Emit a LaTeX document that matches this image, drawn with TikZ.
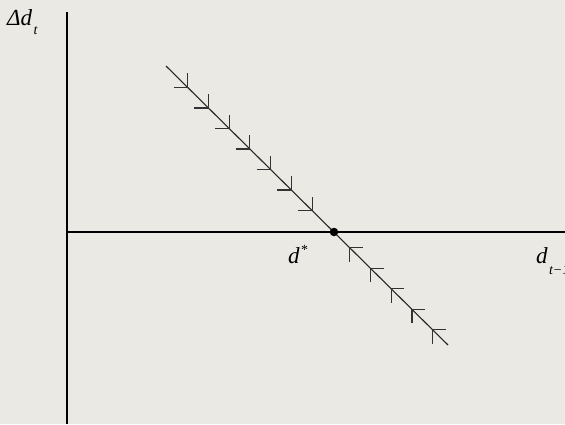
\documentclass[tikz,border=0pt]{standalone}
\usepackage{fontspec}
\setmainfont{Liberation Serif}
\usepackage{tikz}
\usetikzlibrary{positioning,calc}
\definecolor{bgcol}{RGB}{235,233,228}

\begin{document}
\begin{tikzpicture}[
    x=1pt, y=-1pt,
    axis/.style={line width=1.1pt, black},
    path line/.style={line width=1.1pt, black!85},
    tickmark/.style={line width=1.1pt, black!80},
    lbl/.style={anchor=base west, inner sep=0pt, font=\fontsize{23}{26}\selectfont\itshape},
    sub/.style={anchor=base west, inner sep=0pt, font=\fontsize{14}{16}\selectfont\itshape}
]

% background and frame
\fill[bgcol] (0,0) rectangle (565,424);
\useasboundingbox (0,0) rectangle (565,424);

% axes
\coordinate (ytop) at (67,12);
\coordinate (ybot) at (67,424);
\coordinate (xleft) at (67,232);
\coordinate (xright) at (565,232);
\draw[axis] (ytop) -- (ybot);
\draw[axis] (xleft) -- (xright);

% phase line
\coordinate (ltop) at (166,66);
\coordinate (lbot) at (448,345);
\draw[path line] (ltop) -- (lbot);

% arrows above equilibrium
\foreach \t in {0.077,0.1505,0.224,0.2975,0.371,0.4445,0.518}{
    \draw[tickmark] ($(ltop)!\t!(lbot)$) ++(-14,0) -- ++(14,0) -- ++(0,-14);
}
% arrows below equilibrium
\foreach \t in {0.652,0.7255,0.799,0.8725,0.946}{
    \draw[tickmark] ($(ltop)!\t!(lbot)$) ++(13,0) -- ++(-13,0) -- ++(0,14);
}

% equilibrium point
\node[circle, fill=black, inner sep=0pt, minimum size=8.5pt] (eq) at (334,232) {};

% labels
\node[lbl] (ylab) at (7,25.5) {Δd};
\node[sub] (ysub) at ([xshift=1pt]ylab.base east) [yshift=-9pt] {t};
\node[lbl] (dstar) at (288,263) {d};
\node[anchor=base west, inner sep=0pt, font=\fontsize{14}{16}\selectfont] at ([xshift=1pt,yshift=9pt]dstar.base east) {*};
\node[lbl] (xlab) at (536,263) {d};
\node[sub] (xsub) at ([xshift=1pt]xlab.base east) [yshift=-11pt] {t−1};

\end{tikzpicture}
\end{document}
